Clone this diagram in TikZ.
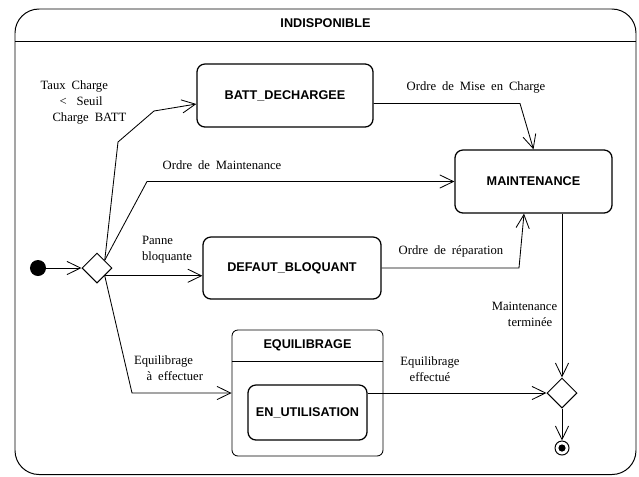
\documentclass[tikz,border=0pt]{standalone}
\usepackage{fontspec}
\setmainfont{Liberation Serif}
\setsansfont{Liberation Sans}
\usetikzlibrary{arrows.meta,shapes.geometric,positioning,calc}
\tikzset{state/.style={draw=black, rounded corners=0.2cm, line width=0.9pt, font=\sffamily\bfseries\fontsize{9}{11}\selectfont, align=center},
  statetitle/.style={font=\sffamily\bfseries\fontsize{9}{11}\selectfont, inner sep=0pt},
  choice/.style={draw=black, diamond, aspect=1, minimum size=0.75cm, inner sep=0pt, line width=0.7pt},
  trans/.style={-{Straight Barb[length=3.4mm,width=3.3mm]}, line width=0.6pt},
  lbl/.style={font=\rmfamily\fontsize{9}{11.5}\selectfont, inner sep=0pt, execute at begin node={\spaceskip=4.2pt\relax}}}

\begin{document}
\begin{tikzpicture}[x=0.025cm, y=-0.025cm]
	\useasboundingbox (0,0) rectangle (639,476);
	% composite state frame
	\draw[line width=0.7pt, rounded corners=0.6cm] (15,9) rectangle (636,474.5);
	\draw[line width=0.7pt] (15,41) -- (636,41);
	\node[statetitle] (indisp) at (325.5,23.5) {INDISPONIBLE};

	\node[circle, fill=black, minimum size=0.4cm, inner sep=0pt] (init) at (38,268) {};
	\node[choice] (d1) at (97,268) {};
	\node[state, minimum width=4.4cm, minimum height=1.575cm] (batt) at (285,95.5) {BATT\_DECHARGEE};
	\node[state, minimum width=3.925cm, minimum height=1.575cm] (maint) at (533.5,181.5) {MAINTENANCE};
	\node[state, minimum width=4.45cm, minimum height=1.55cm] (defaut) at (292,268) {DEFAUT\_BLOQUANT};
	\node[state, line width=0.6pt, rounded corners=0.15cm, minimum width=3.775cm, minimum height=3.15cm] (equil) at (307.5,393) {};
	\draw[line width=0.6pt] ($(equil.north west)+(0,32)$) -- ($(equil.north east)+(0,32)$);
	\node[statetitle] (equiltitle) at ($(equil.north)+(0,16)$) {EQUILIBRAGE};
	\node[state, minimum width=2.975cm, minimum height=1.375cm] (enut) at (307.5,412.5) {EN\_UTILISATION};
	\node[choice] (d2) at (562,393) {};
	\node[circle, draw=black, line width=0.7pt, minimum size=0.35cm, inner sep=0pt] (fin) at (562,448) {};
	\fill (fin.center) circle (0.09cm);

	% guards
	\node[lbl, align=left] (cond) at (83.5,102.5) {Taux Charge\\\mbox{}\hskip13.5pt<\hskip7pt Seuil\\\mbox{}\hskip8.5pt Charge BATT};
	\node[lbl] (ordmaint) at (222,165) {Ordre de Maintenance};
	\node[lbl] (ordcharge) at (476,87) {Ordre de Mise en Charge};
	\node[lbl, align=left] (panne) at (167,250) {Panne\\bloquante};
	\node[lbl, align=left] (eqeff) at (168.5,368) {Equilibrage\\\mbox{}\hskip9pt à effectuer};
	\node[lbl] (ordrep) at (451,251) {Ordre de réparation};
	\node[lbl, align=right] (mtermine) at (524.5,314) {Maintenance\\terminée\hskip3.5pt\mbox{}};
	\node[lbl, align=center] (eqdone) at (430,369) {Equilibrage\\effectué};

	% transitions
	\draw[trans] (init) -- (d1);
	\draw[trans] (d1.north east) -- (118,142) -- (154,111) -- ($(batt.west)+(0,8.5)$);
	\draw[trans] (d1.north east) -- (147,181.5) -- (maint.west);
	\draw[trans] ($(batt.east)+(0,8)$) -- (520,103.5) -- (maint.north);
	\draw[trans] (d1.south east) -- (d1.south east -| defaut.west);
	\draw[trans] (d1.south east) -- (132,393) -- (equil.west);
	\draw[trans] (defaut.east) -- (519,268) -- ($(maint.south)+(-9.5,0)$);
	\draw[trans] (maint.south -| d2.north) -- (d2.north);
	\draw[trans] (d2.west -| enut.east) -- (d2.west);
	\draw[trans] (d2.south) -- (fin.north);
\end{tikzpicture}
\end{document}
